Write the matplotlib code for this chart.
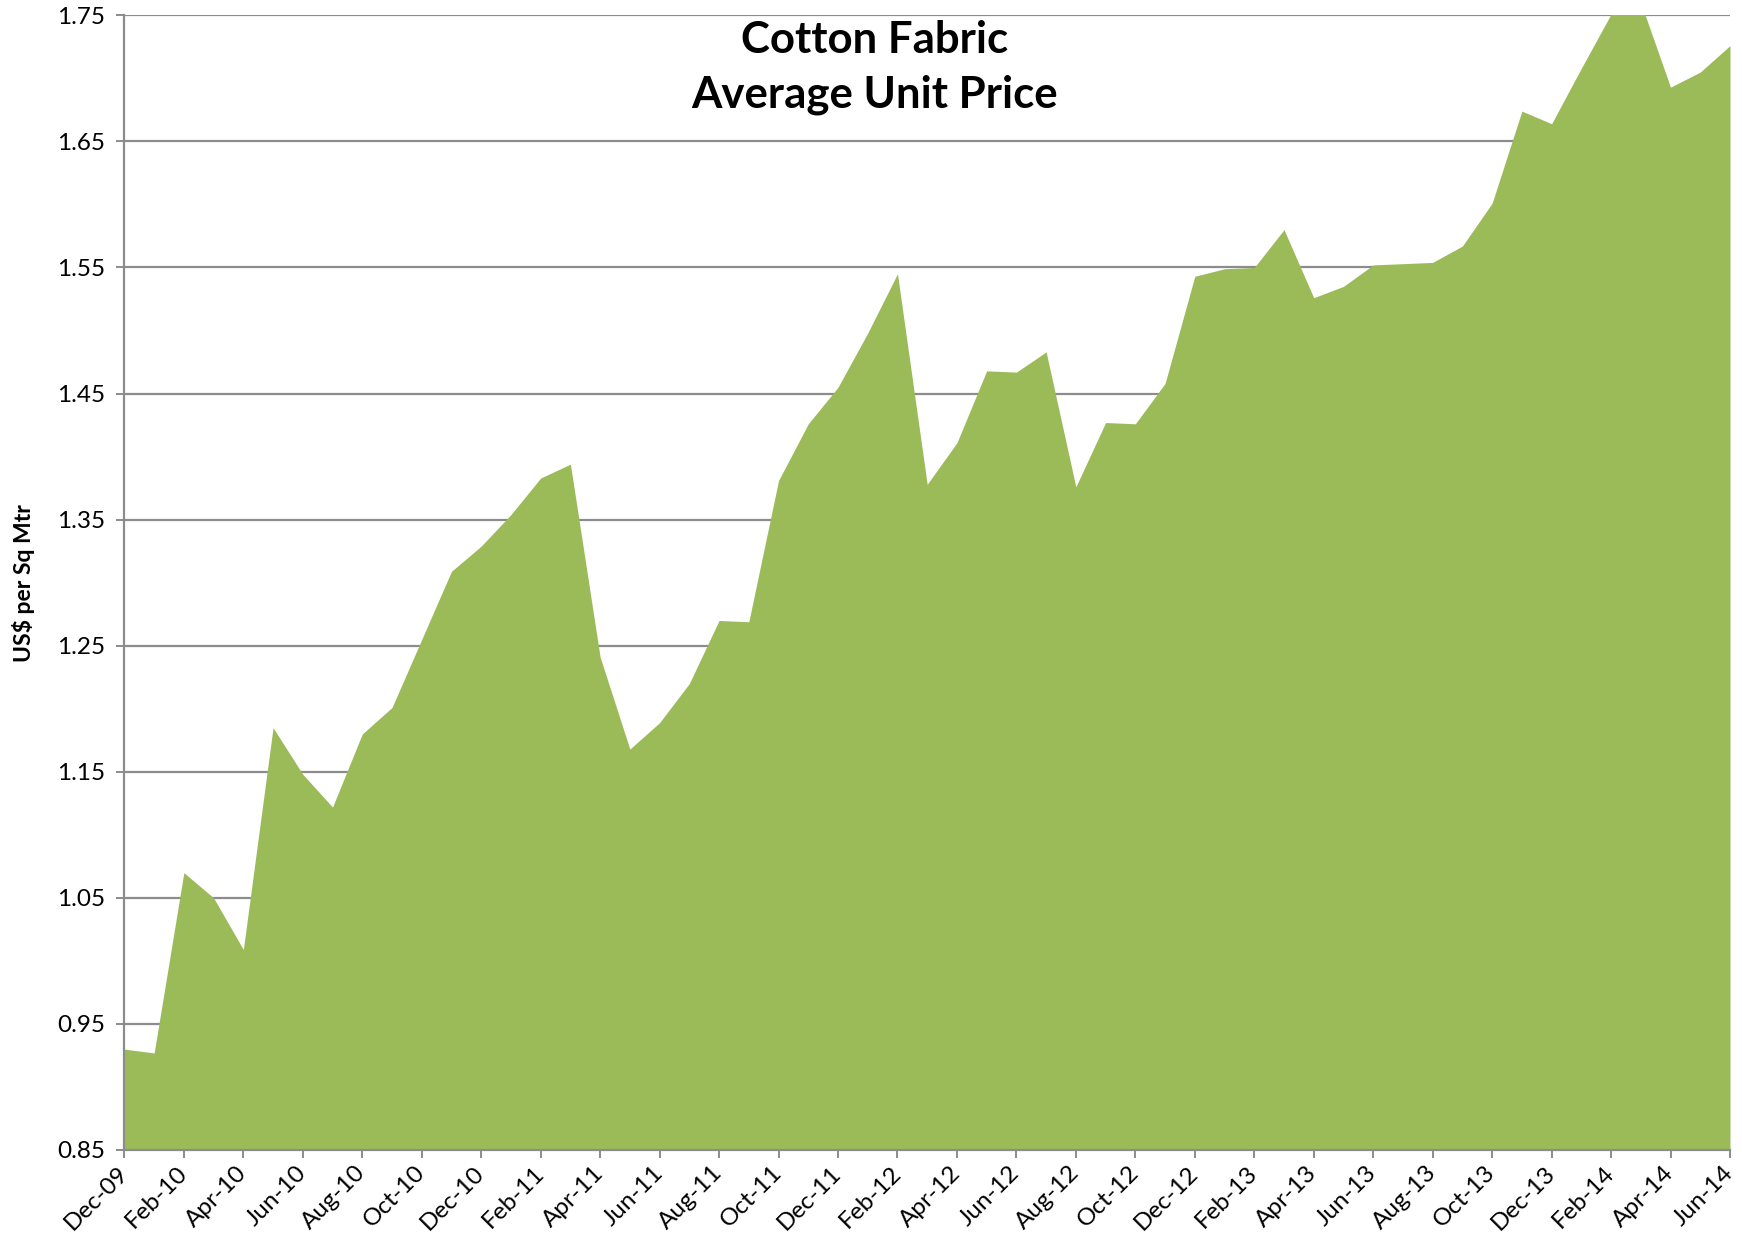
import matplotlib
matplotlib.use("Agg")
import matplotlib.pyplot as plt
import numpy as np

# Monthly average unit price, Dec-09 .. Jun-14 (US$ per sq mtr)
prices = [
    0.930, 0.927, 1.070, 1.050, 1.009, 1.185, 1.148, 1.122, 1.180, 1.201,
    1.255, 1.309, 1.329, 1.354, 1.383, 1.394, 1.241, 1.168, 1.189, 1.220,
    1.270, 1.269, 1.381, 1.426, 1.455, 1.498, 1.545, 1.378, 1.411, 1.468,
    1.467, 1.483, 1.376, 1.427, 1.426, 1.458, 1.543, 1.549, 1.550, 1.580,
    1.526, 1.535, 1.552, 1.553, 1.554, 1.567, 1.601, 1.674, 1.664, 1.708,
    1.751, 1.760, 1.693, 1.705, 1.726,
]
tick_labels = [
    "Dec-09", "Feb-10", "Apr-10", "Jun-10", "Aug-10", "Oct-10", "Dec-10",
    "Feb-11", "Apr-11", "Jun-11", "Aug-11", "Oct-11", "Dec-11", "Feb-12",
    "Apr-12", "Jun-12", "Aug-12", "Oct-12", "Dec-12", "Feb-13", "Apr-13",
    "Jun-13", "Aug-13", "Oct-13", "Dec-13", "Feb-14", "Apr-14", "Jun-14",
]
y_ticks = [0.85, 0.95, 1.05, 1.15, 1.25, 1.35, 1.45, 1.55, 1.65, 1.75]

plt.rcParams['font.family'] = ['Lato', 'DejaVu Sans']

W, H = 1742, 1247
fig = plt.figure(figsize=(W / 100, H / 100), dpi=100)
ax = fig.add_axes([124.4 / W, 1 - 1150 / H, (1730 - 124.4) / W, (1150 - 15.3) / H])

x = np.arange(len(prices))
ax.fill_between(x, 0.85, prices, color="#9BBB59", linewidth=0, zorder=3)

ax.set_xlim(0, len(prices) - 1)
ax.set_ylim(0.85, 1.75)

ax.set_yticks(y_ticks)
ax.set_yticklabels([f"{v:.2f}" for v in y_ticks], fontsize=17.5)
ax.set_xticks(x[::2])
ax.set_xticklabels(tick_labels, fontsize=17.5, rotation=45, ha="right",
                   va="center", rotation_mode="anchor")

grid_col = "#8c8c8c"
ax.grid(axis="y", color=grid_col, linewidth=1.6, zorder=1)
ax.set_axisbelow(True)
for s in ["top", "right"]:
    ax.spines[s].set_visible(False)
for s in ["left", "bottom"]:
    ax.spines[s].set_color(grid_col)
    ax.spines[s].set_linewidth(1.6)
    ax.spines[s].set_zorder(4)
ax.tick_params(axis="both", colors=grid_col, labelcolor="black", length=6, width=1.4)
ax.tick_params(axis="x", pad=8)
ax.tick_params(axis="y", pad=8)

ax.set_ylabel("US$ per Sq Mtr", fontsize=16.5, fontweight="bold", labelpad=16)

fig.text(875 / W, 1 - 20 / H, "Cotton Fabric\nAverage Unit Price", ha="center",
         va="top", fontsize=31.5, fontweight="bold", linespacing=1.45)

fig.savefig("out.png", dpi=100)
